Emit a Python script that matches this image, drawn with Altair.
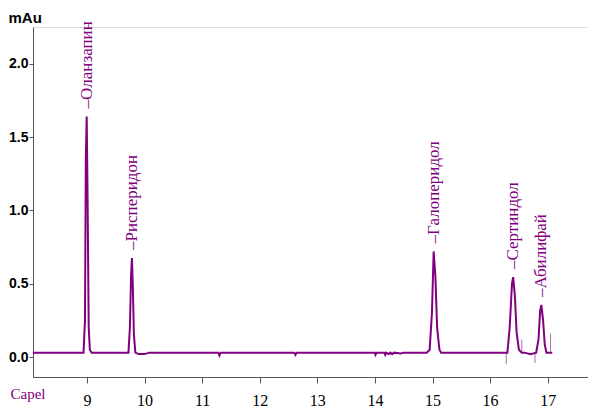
import altair as alt
import pandas as pd

# Main chromatogram trace (retention time, mAu)
times = [8.06, 8.94, 8.965, 8.98, 8.995, 9.01, 9.03, 9.05, 9.08,
         9.72, 9.745, 9.765, 9.78, 9.795, 9.815, 9.84, 9.9, 10.0, 10.08,
         11.28, 11.3, 11.32, 12.6, 12.62, 12.64,
         14.0, 14.01, 14.03, 14.17, 14.18, 14.2, 14.24, 14.27, 14.3, 14.33, 14.45, 14.5,
         14.9, 14.95, 14.99, 15.02, 15.05, 15.08, 15.12, 15.15,
         16.3, 16.34, 16.38, 16.4, 16.43, 16.46, 16.5, 16.55, 16.6, 16.7,
         16.8, 16.84, 16.87, 16.89, 16.92, 16.95, 16.98, 17.08]
values = [0.03, 0.03, 0.25, 1.35, 1.64, 1.1, 0.2, 0.05, 0.03,
          0.03, 0.2, 0.55, 0.675, 0.5, 0.15, 0.03, 0.02, 0.02, 0.03,
          0.03, 0.01, 0.03, 0.03, 0.015, 0.03,
          0.03, 0.015, 0.03, 0.03, 0.015, 0.03, 0.02, 0.03, 0.02, 0.03, 0.025, 0.03,
          0.03, 0.05, 0.3, 0.72, 0.55, 0.2, 0.05, 0.03,
          0.03, 0.2, 0.5, 0.545, 0.42, 0.17, 0.05, 0.03, 0.03, 0.02,
          0.03, 0.12, 0.32, 0.355, 0.25, 0.08, 0.03, 0.03]

# Thin marker spikes of the second trace
spike_x = [16.28, 16.55, 16.78, 17.05]
spike_y1 = [0.03, 0.03, 0.03, 0.03]
spike_y2 = [-0.05, 0.12, -0.04, 0.16]

# Peak labels
peak_names = ["–Оланзапин", "–Рисперидон", "–Галоперидол", "–Сертиндол", "–Абилифай"]
peak_x = [8.995, 9.78, 15.02, 16.4, 16.89]
peak_y = [1.64, 0.675, 0.72, 0.545, 0.355]

x_ticks = [9, 10, 11, 12, 13, 14, 15, 16, 17]
y_ticks = [0.0, 0.5, 1.0, 1.5, 2.0]

PURPLE = "#800080"

trace = pd.DataFrame({"t": times, "v": values})
spikes = pd.DataFrame({"t": spike_x, "v1": spike_y1, "v2": spike_y2})
labels = pd.DataFrame({"name": peak_names, "t": peak_x, "v": peak_y})

xs = alt.Scale(domain=[8.0625, 17.7], nice=False, zero=False)
ys = alt.Scale(domain=[-0.136, 2.25], nice=False, zero=False)

x_axis = alt.Axis(values=x_ticks, grid=False, format="d",
                  labelFont="Liberation Serif", labelFontSize=16, labelColor="black",
                  labelPadding=9, tickSize=6, tickColor="#555", domainColor="#555",
                  title="Capel", titleFont="Liberation Serif", titleFontSize=15,
                  titleFontWeight="normal", titleColor=PURPLE, titleAlign="left",
                  titleAnchor="start", titleX=-23, titleY=21, titleBaseline="alphabetic")
y_axis = alt.Axis(values=y_ticks, grid=False, format=".1f",
                  labelFont="Liberation Sans", labelFontSize=14, labelFontWeight="bold",
                  labelColor="black", labelPadding=1, tickSize=4,
                  tickColor="#555", domainColor="#555",
                  title="mAu", titleAngle=0, titleFont="Liberation Sans", titleFontSize=15,
                  titleFontWeight="bold", titleColor="black", titleAlign="left",
                  titleX=-25, titleY=-5, titleBaseline="alphabetic")

line = alt.Chart(trace).mark_line(color=PURPLE, strokeWidth=2).encode(
    x=alt.X("t:Q", scale=xs, axis=x_axis),
    y=alt.Y("v:Q", scale=ys, axis=y_axis),
    order="t:Q",
)

spk = alt.Chart(spikes).mark_rule(color="#b070b0", strokeWidth=1).encode(
    x=alt.X("t:Q", scale=xs),
    y=alt.Y("v1:Q", scale=ys),
    y2="v2:Q",
)

txt = alt.Chart(labels).mark_text(
    angle=270, align="left", baseline="middle", dx=8,
    font="Liberation Serif", fontSize=17, color=PURPLE,
).encode(
    x=alt.X("t:Q", scale=xs),
    y=alt.Y("v:Q", scale=ys),
    text="name:N",
)

chart = alt.layer(spk, line, txt).properties(
    width=555, height=350,
    autosize="none",
    padding={"left": 25, "top": 19, "right": 0, "bottom": 40},
).configure_view(stroke=None).configure(background="white")

chart.save("out.html", embed_options={"renderer": "svg", "actions": False})
